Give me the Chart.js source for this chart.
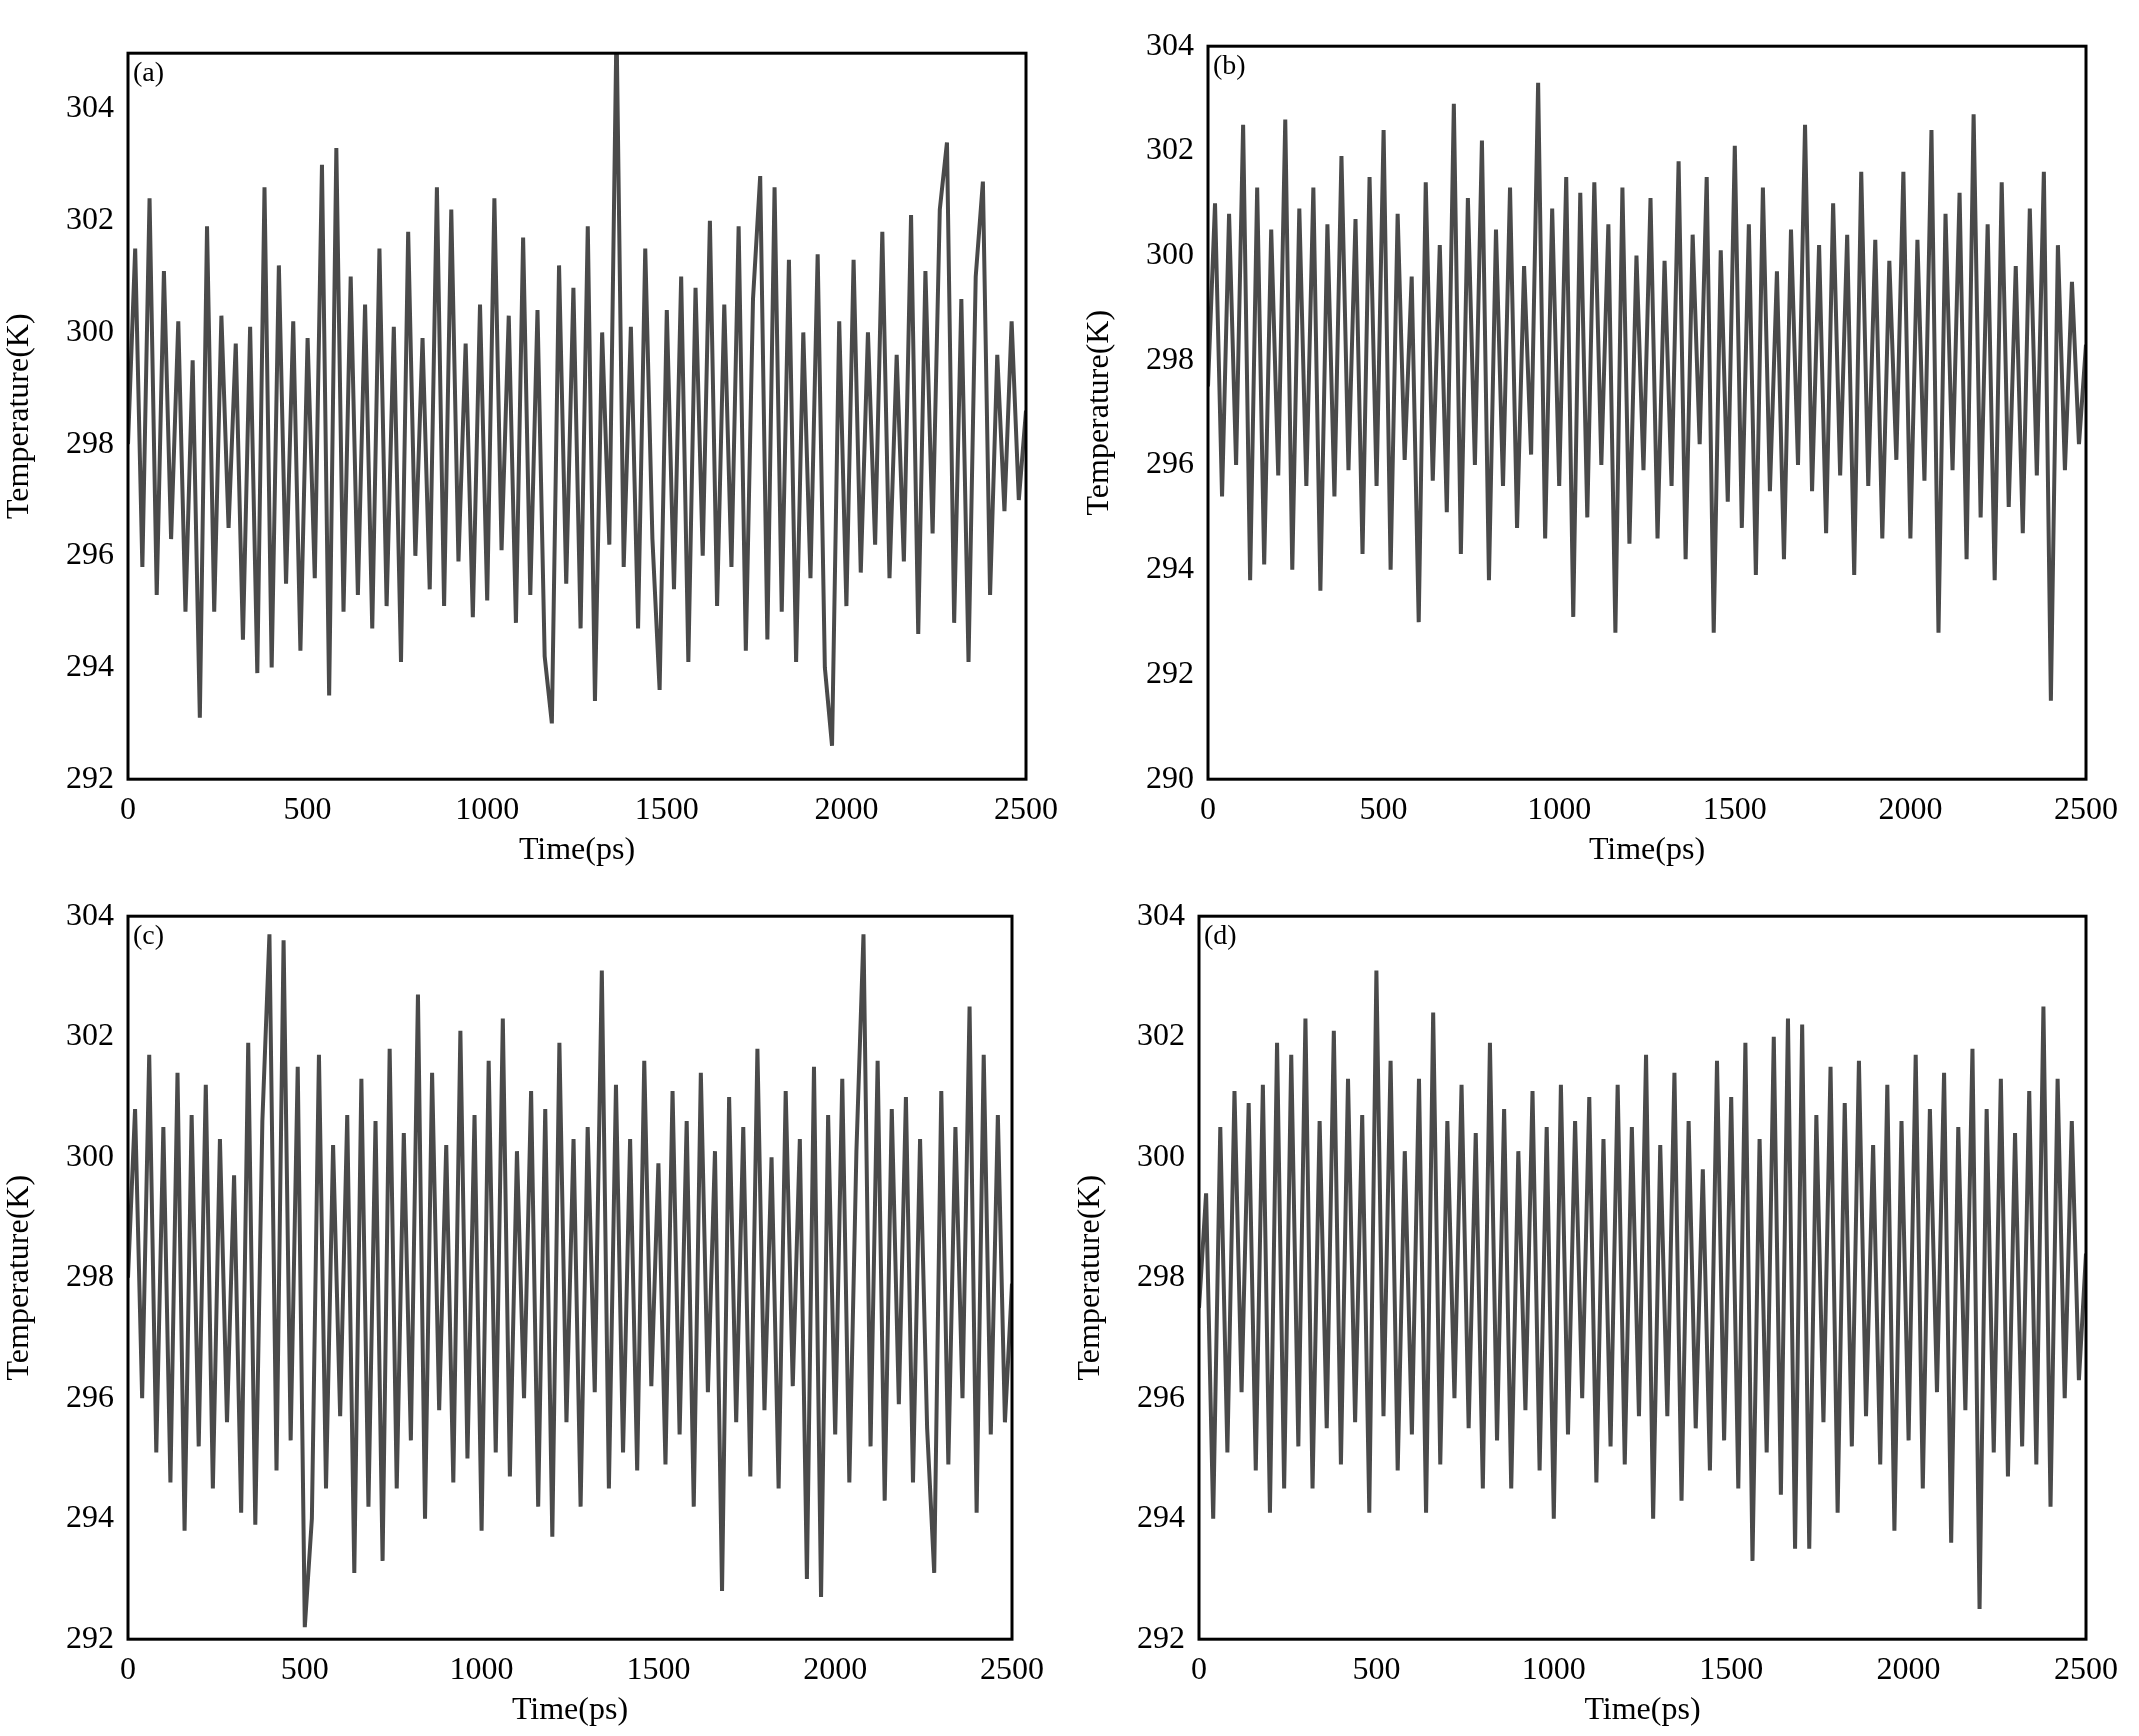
<!DOCTYPE html>
<html lang="en">
<head>
<meta charset="UTF-8">
<title>Temperature</title>
<script src="https://cdn.jsdelivr.net/npm/chart.js"></script>
<style>
  body { margin: 0; background: #fff; width: 2139px; height: 1736px; position: relative; }
  .panel { position: absolute; }
</style>
</head>
<body>
<div class="panel" style="left:0px;top:30px;width:1060px;height:840px"><canvas id="ca"></canvas></div>
<div class="panel" style="left:1080px;top:23px;width:1040px;height:847px"><canvas id="cb"></canvas></div>
<div class="panel" style="left:0px;top:893px;width:1046px;height:837px"><canvas id="cc"></canvas></div>
<div class="panel" style="left:1071px;top:893px;width:1049px;height:837px"><canvas id="cd"></canvas></div>
<script>
// simulation length (ps); samples are spread evenly over it
const simLength = 2500;
const xTicks = [0, 500, 1000, 1500, 2000, 2500];

const tempA = [298,301.5,295.8,302.4,295.3,301.1,296.3,300.2,295.0,299.5,
293.1,301.9,295.0,300.3,296.5,299.8,294.5,300.1,293.9,302.6,
294.0,301.2,295.5,300.2,294.3,299.9,295.6,303.0,293.5,303.3,
295.0,301.0,295.3,300.5,294.7,301.5,295.1,300.1,294.1,301.8,
296.0,299.9,295.4,302.6,295.1,302.2,295.9,299.8,294.9,300.5,
295.2,302.4,296.1,300.3,294.8,301.7,295.3,300.4,294.2,293.0,
301.2,295.5,300.8,294.7,301.9,293.4,300.0,296.2,305.5,295.8,
300.1,294.7,301.5,296.3,293.6,300.4,295.4,301.0,294.1,300.8,
296.0,302.0,295.1,300.5,295.8,301.9,294.3,300.6,302.8,294.5,
302.6,295.0,301.3,294.1,300.0,295.6,301.4,294.0,292.6,300.2,
295.1,301.3,295.7,300.0,296.2,301.8,295.6,299.6,295.9,302.1,
294.6,301.1,296.4,302.2,303.4,294.8,300.6,294.1,301.0,302.7,
295.3,299.6,296.8,300.2,297.0,298.6];

const tempB = [297.5,301.0,295.4,300.8,296.0,302.5,293.8,301.3,294.1,300.5,
295.8,302.6,294.0,300.9,295.6,301.3,293.6,300.6,295.4,301.9,
295.9,300.7,294.3,301.5,295.6,302.4,294.0,300.8,296.1,299.6,
293.0,301.4,295.7,300.2,295.1,302.9,294.3,301.1,296.0,302.2,
293.8,300.5,295.6,301.3,294.8,299.8,296.2,303.3,294.6,300.9,
295.6,301.5,293.1,301.2,295.0,301.4,296.0,300.6,292.8,301.3,
294.5,300.0,295.9,301.1,294.6,299.9,295.6,301.8,294.2,300.4,
296.4,301.5,292.8,300.1,295.3,302.1,294.8,300.6,293.9,301.3,
295.5,299.7,294.2,300.5,296.0,302.5,295.5,300.2,294.7,301.0,
295.8,300.4,293.9,301.6,295.6,300.3,294.6,299.9,296.1,301.6,
294.6,300.3,295.7,302.4,292.8,300.8,295.9,301.2,294.2,302.7,
295.0,300.6,293.8,301.4,295.2,299.8,294.7,300.9,295.8,301.6,
291.5,300.2,295.9,299.5,296.4,298.3];

const tempC = [298.0,300.8,296.0,301.7,295.1,300.5,294.6,301.4,293.8,300.7,
295.2,301.2,294.5,300.3,295.6,299.7,294.1,301.9,293.9,300.6,
303.7,294.8,303.6,295.3,301.5,292.2,294.0,301.7,294.5,300.2,
295.7,300.7,293.1,301.3,294.2,300.6,293.3,301.8,294.5,300.4,
295.3,302.7,294.0,301.4,295.8,300.2,294.6,302.1,295.0,300.7,
293.8,301.6,295.1,302.3,294.7,300.1,296.0,301.1,294.2,300.8,
293.7,301.9,295.6,300.3,294.2,300.5,296.1,303.1,294.5,301.2,
295.1,300.3,294.8,301.6,296.2,299.9,294.9,301.1,295.4,300.6,
294.2,301.4,296.1,300.1,292.8,301.0,295.6,300.5,294.7,301.8,
295.8,300.0,294.5,301.1,296.2,300.3,293.0,301.5,292.7,300.7,
295.4,301.3,294.6,300.1,303.7,295.2,301.6,294.3,300.8,295.9,
301.0,294.6,300.3,295.5,293.1,301.1,294.9,300.5,296.0,302.5,
294.1,301.7,295.4,300.7,295.6,297.9];

const tempD = [297.5,299.4,294.0,300.5,295.1,301.1,296.1,300.9,294.8,301.2,
294.1,301.9,294.5,301.7,295.2,302.3,294.5,300.6,295.5,302.1,
294.9,301.3,295.6,300.7,294.1,303.1,295.7,301.6,294.8,300.1,
295.4,301.3,294.1,302.4,294.9,300.6,296.0,301.2,295.5,300.4,
294.5,301.9,295.3,300.8,294.5,300.1,295.8,301.1,294.8,300.5,
294.0,301.2,295.4,300.6,296.0,301.0,294.6,300.3,295.2,301.2,
294.9,300.5,295.7,301.7,294.0,300.2,295.7,301.4,294.3,300.6,
295.5,299.8,294.8,301.6,295.3,301.0,294.5,301.9,293.3,300.3,
295.1,302.0,294.4,302.3,293.5,302.2,293.5,300.7,295.6,301.5,
294.1,300.9,295.2,301.6,295.7,300.2,294.9,301.2,293.8,300.6,
295.3,301.7,294.5,300.8,296.1,301.4,293.6,300.5,295.8,301.8,
292.5,300.8,295.1,301.3,294.7,300.4,295.2,301.1,294.9,302.5,
294.2,301.3,296.0,300.6,296.3,298.4];

const panels = [
  { id: 'ca', label: '(a)', values: tempA, yMin: 292, yMax: 305, yTicks: [292, 294, 296, 298, 300, 302, 304] },
  { id: 'cb', label: '(b)', values: tempB, yMin: 290, yMax: 304, yTicks: [290, 292, 294, 296, 298, 300, 302, 304] },
  { id: 'cc', label: '(c)', values: tempC, yMin: 292, yMax: 304, yTicks: [292, 294, 296, 298, 300, 302, 304] },
  { id: 'cd', label: '(d)', values: tempD, yMin: 292, yMax: 304, yTicks: [292, 294, 296, 298, 300, 302, 304] }
];

const font = 'Liberation Serif';

// frame + panel letter
const framePlugin = {
  id: 'frame',
  afterDraw(chart, args, opts) {
    const { ctx, chartArea: a } = chart;
    ctx.save();
    ctx.strokeStyle = '#000';
    ctx.lineWidth = 3;
    ctx.strokeRect(a.left, a.top, a.right - a.left, a.bottom - a.top);
    ctx.fillStyle = '#000';
    ctx.font = '28px "' + font + '"';
    ctx.textBaseline = 'top';
    ctx.fillText(opts.label, a.left + 5, a.top + 6);
    ctx.restore();
  }
};

panels.forEach(p => {
  const n = p.values.length;
  const points = p.values.map((v, i) => ({ x: i * simLength / (n - 1), y: v }));
  new Chart(document.getElementById(p.id), {
    type: 'line',
    data: { datasets: [{ data: points, borderColor: '#4a4a4a', borderWidth: 4, pointRadius: 0, tension: 0 }] },
    options: {
      responsive: true,
      maintainAspectRatio: false,
      animation: false,
      plugins: { legend: { display: false }, tooltip: { enabled: false }, frame: { label: p.label } },
      layout: { padding: { right: 30, top: 6 } },
      scales: {
        x: {
          type: 'linear', min: 0, max: simLength,
          afterBuildTicks: ax => { ax.ticks = xTicks.map(v => ({ value: v })); },
          grid: { display: false, drawTicks: true, tickLength: 10, tickColor: '#000' },
          border: { display: false },
          ticks: { color: '#000', font: { family: font, size: 32 }, maxRotation: 0, padding: 2, callback: v => String(v) },
          title: { display: true, text: 'Time(ps)', color: '#000', font: { family: font, size: 32 }, padding: 0 }
        },
        y: {
          min: p.yMin, max: p.yMax,
          afterBuildTicks: ax => { ax.ticks = p.yTicks.map(v => ({ value: v })); },
          afterFit: ax => { ax.width = 128; },
          grid: { display: false, drawTicks: true, tickLength: 10, tickColor: '#000' },
          border: { display: false },
          ticks: { color: '#000', font: { family: font, size: 32 }, padding: 4, callback: v => String(v) },
          title: { display: true, text: 'Temperature(K)', color: '#000', font: { family: font, size: 32 }, padding: 0 }
        }
      }
    },
    plugins: [framePlugin]
  });
});
</script>
</body>
</html>
